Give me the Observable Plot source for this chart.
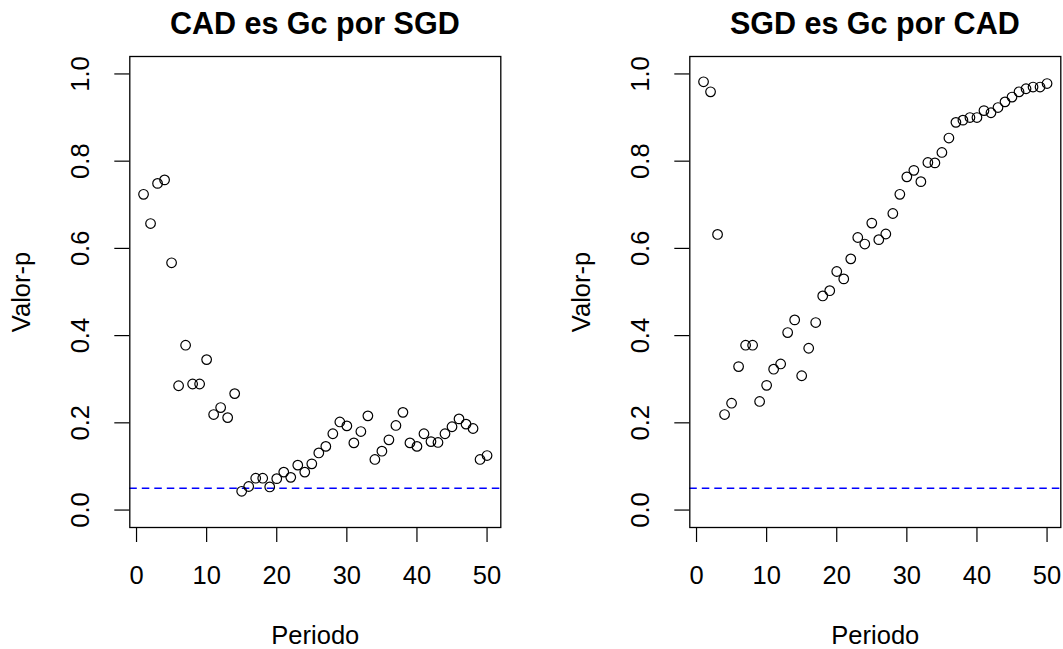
<!DOCTYPE html>
<html>
<head>
<meta charset="utf-8">
<script src="https://cdn.jsdelivr.net/npm/d3@7"></script>
<script src="https://cdn.jsdelivr.net/npm/@observablehq/plot@0.6"></script>
<style>
  body { margin: 0; background: #fff; }
  #grafico { position: relative; width: 1063px; height: 649px; overflow: hidden;
             font-family: "Liberation Sans", Arial, sans-serif; background: #fff; }
  .panel { position: absolute; top: 0; }
  .titulo { position: absolute; top: 8px; width: 371px; text-align: center;
            font-weight: bold; font-size: 30.5px; line-height: 1; color: #000; white-space: nowrap; }
</style>
</head>
<body>
<div id="grafico"></div>
<script>
// Periodos (eje x)
const periodos = [1, 2, 3, 4, 5, 6, 7, 8, 9, 10,
  11, 12, 13, 14, 15, 16, 17, 18, 19, 20,
  21, 22, 23, 24, 25, 26, 27, 28, 29, 30,
  31, 32, 33, 34, 35, 36, 37, 38, 39, 40,
  41, 42, 43, 44, 45, 46, 47, 48, 49, 50];

// Valor-p de la prueba: CAD es causada en sentido de Granger por SGD
const valorCADporSGD = [0.724, 0.657, 0.749, 0.757, 0.567, 0.285, 0.378, 0.289, 0.289, 0.345,
  0.219, 0.235, 0.212, 0.267, 0.043, 0.054, 0.073, 0.073, 0.053, 0.072,
  0.087, 0.075, 0.103, 0.087, 0.106, 0.131, 0.146, 0.175, 0.202, 0.193,
  0.154, 0.180, 0.216, 0.116, 0.135, 0.161, 0.194, 0.224, 0.154, 0.146,
  0.175, 0.157, 0.155, 0.175, 0.191, 0.209, 0.197, 0.187, 0.116, 0.125];

// Valor-p de la prueba: SGD es causada en sentido de Granger por CAD
const valorSGDporCAD = [0.982, 0.959, 0.632, 0.219, 0.245, 0.329, 0.378, 0.378, 0.249, 0.286,
  0.323, 0.335, 0.407, 0.436, 0.308, 0.371, 0.430, 0.491, 0.503, 0.547,
  0.530, 0.576, 0.625, 0.610, 0.658, 0.620, 0.633, 0.680, 0.724, 0.764,
  0.779, 0.753, 0.797, 0.796, 0.820, 0.853, 0.889, 0.894, 0.900, 0.900,
  0.916, 0.911, 0.923, 0.936, 0.947, 0.959, 0.966, 0.970, 0.970, 0.978];

const titulos = ["CAD es Gc por SGD", "SGD es Gc por CAD"];
const ticksX = [0, 10, 20, 30, 40, 50];
const ticksY = [0, 0.2, 0.4, 0.6, 0.8, 1.0];
const umbral = 0.05;  // nivel de significancia

// Medidas de cada panel
const ANCHO = 503, ALTO = 649;
const M = { left: 129.3, right: 2.7, top: 56, bottom: 122 };

function panel(valores) {
  const datos = periodos.map((p, i) => ({ periodo: p, valor: valores[i] }));
  return Plot.plot({
    width: ANCHO,
    height: ALTO,
    marginLeft: M.left,
    marginRight: M.right,
    marginTop: M.top,
    marginBottom: M.bottom,
    style: {
      fontFamily: '"Liberation Sans", Arial, sans-serif',
      fontSize: "25.5px",
      color: "#000",
      background: "transparent",
      overflow: "visible"
    },
    // rango de datos ampliado un 4% a cada lado
    x: { domain: [-0.96, 51.96] },
    y: { domain: [-0.04, 1.04] },
    marks: [
      Plot.ruleY([umbral], { stroke: "#0000ff", strokeWidth: 1.3, strokeDasharray: "7.5,5" }),
      Plot.dot(datos, { x: "periodo", y: "valor", r: 4.8, stroke: "#000", strokeWidth: 1.2, fill: "none" }),
      Plot.frame({ stroke: "#000", strokeWidth: 1.3 }),
      Plot.axisX(ticksX, {
        tickSize: 15, tickPadding: 23, stroke: "#000", strokeWidth: 1.2, strokeOpacity: 1,
        label: "Periodo", labelAnchor: "center", labelArrow: "none", labelOffset: 116
      }),
      Plot.axisY(ticksY, {
        tickSize: 15, tickPadding: 26, tickRotate: -90, tickFormat: d3.format(".1f"),
        stroke: "#000", strokeWidth: 1.2, strokeOpacity: 1,
        label: "Valor-p", labelAnchor: "center", labelArrow: "none", labelOffset: 118
      })
    ]
  });
}

const cont = document.getElementById("grafico");
[valorCADporSGD, valorSGDporCAD].forEach((valores, k) => {
  const izq = k === 0 ? 0 : 560;
  const svg = panel(valores);
  svg.classList.add("panel");
  svg.style.left = izq + "px";
  cont.appendChild(svg);
  const t = document.createElement("div");
  t.className = "titulo";
  t.style.left = (izq + M.left) + "px";
  t.textContent = titulos[k];
  cont.appendChild(t);
});
</script>
</body>
</html>
